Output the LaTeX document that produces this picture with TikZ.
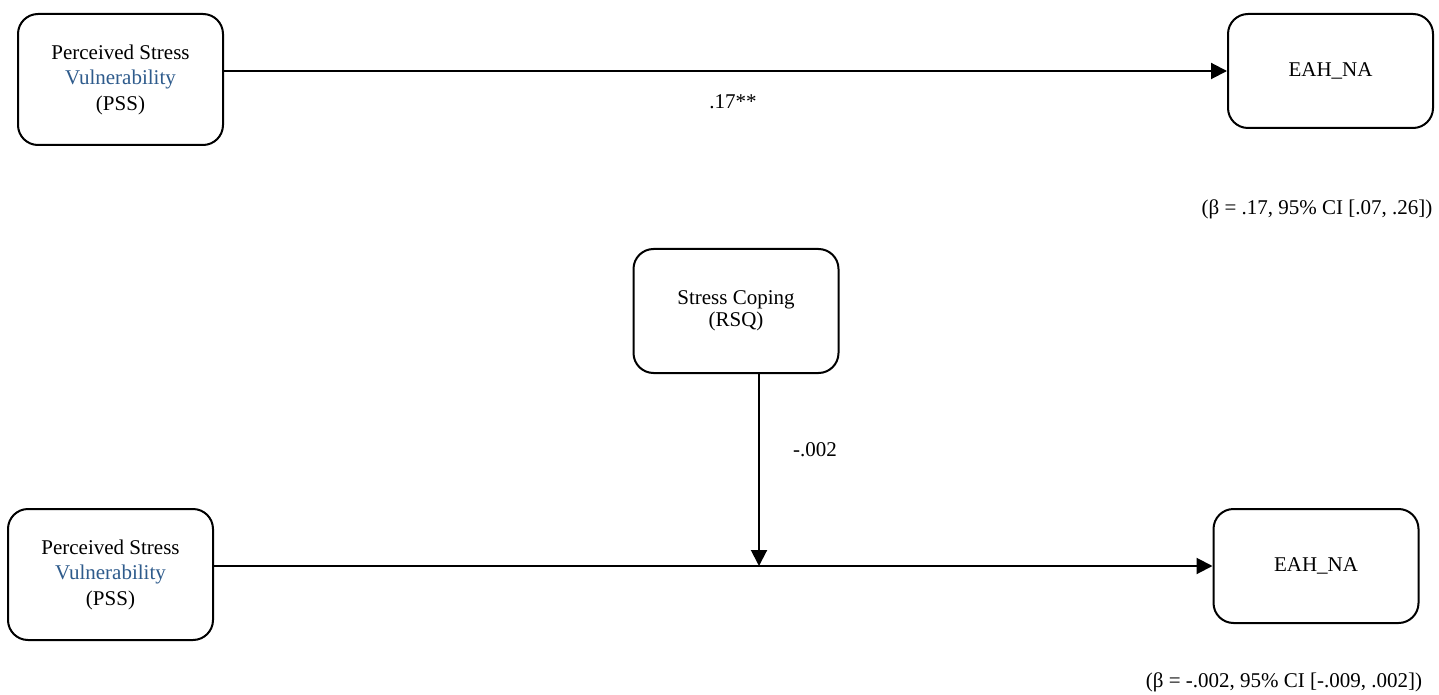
\documentclass[tikz,border=0pt]{standalone}
\usepackage{fontspec}
\setmainfont{Liberation Serif}
\usetikzlibrary{arrows.meta, positioning, calc}
\definecolor{mdInk}{HTML}{000000}
\definecolor{mdBlue}{HTML}{2E5B8C}
\tikzset{
  mdbox/.style={
    draw=mdInk, fill=white, line width=1pt, rounded corners=10pt,
    minimum width=102.5pt, minimum height=#1, align=center,
    inner sep=0pt, font=\fontsize{10.5}{12.75}\selectfont,
  },
  mdarrow/.style={
    -{Triangle[length=8pt, width=8pt]}, draw=mdInk, line width=1pt,
  },
  mdlabel/.style={
    inner sep=0pt, font=\fontsize{10.5}{12.75}\selectfont,
  },
}
\newcommand{\mdpss}{Perceived Stress\\\textcolor{mdBlue}{Vulnerability}\\(PSS)}

\begin{document}
\begin{tikzpicture}[x=0.5pt, y=-0.5pt]
\useasboundingbox[fill=white] (0,0) rectangle (1439,695);

% Total effect --------------------------------------------------------------
\node[mdbox=65.5pt] (pssA) at (120.5,79.5) {\mdpss};
\node[mdbox=57pt] (eahA) at (1330.5,71) {EAH\_NA};
\draw[mdarrow] (pssA.east |- eahA.west) -- (eahA.west);
\node[mdlabel] (betaA) at (733,102) {.17**};
\node[mdlabel] (ciA) at (1317,209) {(β = .17, 95\% CI [.07, .26])};

% Moderation ----------------------------------------------------------------
\node[mdbox=62pt] (rsq) at (736,311) {Stress Coping\\[-2pt](RSQ)};
\node[mdbox=65.5pt] (pssB) at (110.5,574.5) {\mdpss};
\node[mdbox=57pt] (eahB) at (1316,566) {EAH\_NA};
% the moderator path meets the main path right of the box centre
\coordinate (modtop) at ($(rsq.south)+(23,0)$);
\coordinate (modpt) at (modtop |- eahB.west);
\draw[mdarrow] (pssB.east |- eahB.west) -- (eahB.west);
\draw[mdarrow] (modtop) -- (modpt);
\node[mdlabel] (betaB) at (815,450) {-.002};
\node[mdlabel] (ciB) at (1284,682) {(β = -.002, 95\% CI [-.009, .002])};

\end{tikzpicture}
\end{document}
